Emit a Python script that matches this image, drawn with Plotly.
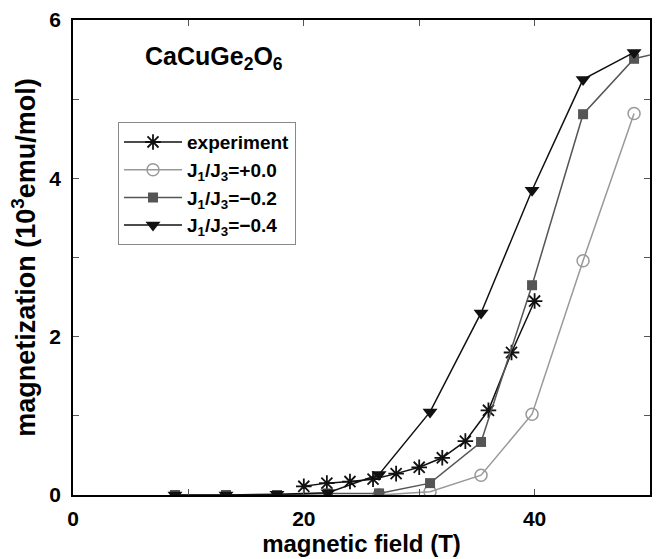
import plotly.graph_objects as go

# data
field_theory = [8.84, 13.26, 17.68, 22.10, 26.52, 30.94, 35.36, 39.78, 44.20, 48.62]
m_j04 = [0.0, 0.0, 0.01, 0.03, 0.26, 1.05, 2.30, 3.85, 5.25, 5.59]
field_j02 = [8.84, 13.26, 17.68, 22.10, 26.52, 30.94, 35.36, 39.78, 44.20, 48.62, 53.04]
m_j02 = [0.0, 0.0, 0.0, 0.02, 0.02, 0.15, 0.67, 2.65, 4.81, 5.51, 5.66]
field_j00 = [26.52, 30.94, 35.36, 39.78, 44.20, 48.62]
m_j00 = [0.0, 0.04, 0.25, 1.02, 2.96, 4.82]
field_exp = [20, 22, 24, 26, 28, 30, 32, 34, 36, 38, 40]
m_exp = [0.11, 0.15, 0.17, 0.20, 0.27, 0.35, 0.47, 0.68, 1.07, 1.80, 2.45]

x_ticks = [0, 10, 20, 30, 40, 50]
x_labels = ["0", "", "20", "", "40", ""]
y_ticks = [0, 1, 2, 3, 4, 5, 6]
y_labels = ["0", "", "2", "", "4", "", "6"]

FONT = "Liberation Sans, Arial, sans-serif"

fig = go.Figure()
fig.add_trace(go.Scatter(
    x=field_exp, y=m_exp, mode="lines+markers", name="<b>experiment</b>",
    line=dict(color="#111111", width=1.5),
    marker=dict(symbol="asterisk-open", size=13, color="#111111", line=dict(width=1.8, color="#111111")),
))
fig.add_trace(go.Scatter(
    x=field_j00, y=m_j00, mode="lines+markers", name="<b>J<sub>1</sub>/J<sub>3</sub>=+0.0</b>",
    line=dict(color="#999999", width=1.5),
    marker=dict(symbol="circle-open", size=12, color="#999999", line=dict(width=1.5, color="#999999")),
))
fig.add_trace(go.Scatter(
    x=field_j02, y=m_j02, mode="lines+markers", name="<b>J<sub>1</sub>/J<sub>3</sub>=\u22120.2</b>",
    line=dict(color="#555555", width=1.5),
    marker=dict(symbol="square", size=10, color="#555555"),
))
fig.add_trace(go.Scatter(
    x=field_theory, y=m_j04, mode="lines+markers", name="<b>J<sub>1</sub>/J<sub>3</sub>=\u22120.4</b>",
    line=dict(color="#111111", width=1.5),
    marker=dict(symbol="triangle-down", size=13, color="#111111"),
))

fig.add_annotation(
    x=0.245, y=0.92, xref="paper", yref="paper", showarrow=False,
    xanchor="center", yanchor="middle",
    text="<b>CaCuGe<sub>2</sub>O<sub>6</sub></b>",
    font=dict(family=FONT, size=25, color="black"),
)

axis_common = dict(
    showgrid=False, zeroline=False, showline=True, linecolor="black", linewidth=1.5,
    mirror="allticks", ticks="inside", ticklen=6, tickwidth=1, tickcolor="#555555",
    tickfont=dict(family=FONT, size=21, color="black", weight="bold"),
    ticklabeloverflow="allow",
)

fig.update_layout(
    width=660, height=559,
    margin=dict(l=73, r=8, t=14, b=64),
    paper_bgcolor="white", plot_bgcolor="white",
    showlegend=True,
    legend=dict(
        x=0.078, y=0.785, xanchor="left", yanchor="top",
        bordercolor="#888888", borderwidth=1, bgcolor="white",
        font=dict(family=FONT, size=19, color="black"),
        tracegroupgap=0, itemwidth=58,
    ),
    xaxis=dict(range=[0, 50], tickvals=x_ticks, ticktext=x_labels, ticklabelstandoff=4,
               title=dict(text="<b>magnetic field (T)</b>", font=dict(family=FONT, size=24, color="black"), standoff=4),
               **axis_common),
    yaxis=dict(range=[0, 6], tickvals=y_ticks, ticktext=y_labels, ticklabelstandoff=6,
               title=dict(text="<b>magnetization (10<sup>3</sup>emu/mol)</b>", font=dict(family=FONT, size=27, color="black"), standoff=6),
               **axis_common),
)

fig.write_html("out.html", config={"displayModeBar": False},
               post_script="document.body.style.margin='0px';")
